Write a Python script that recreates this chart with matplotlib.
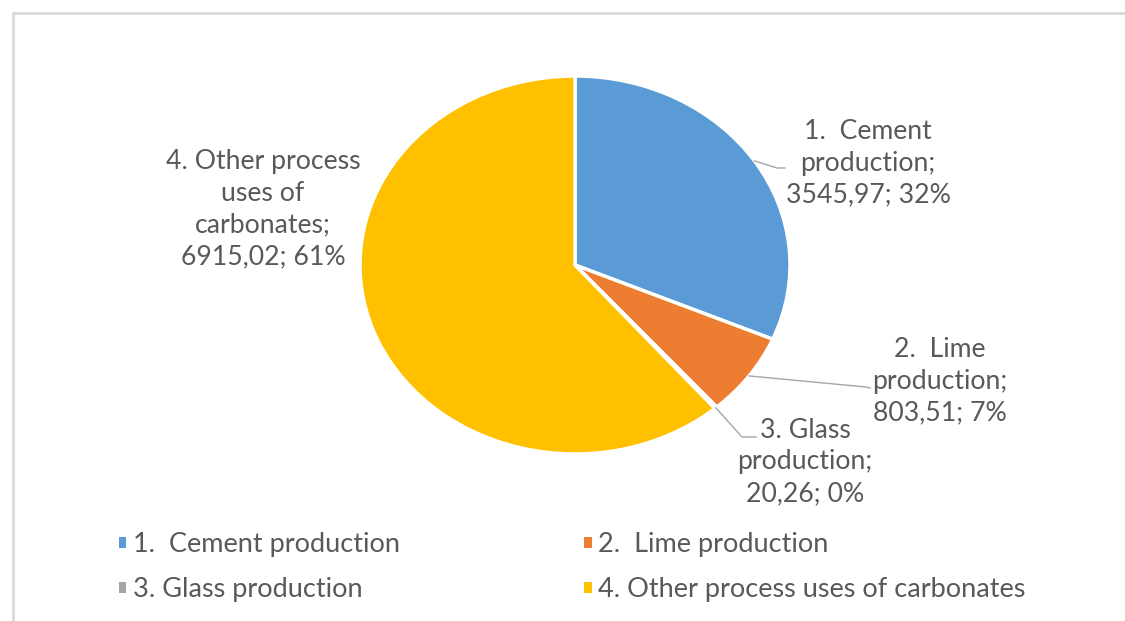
import numpy as np
import matplotlib
matplotlib.use("Agg")
import matplotlib.pyplot as plt
from matplotlib.patches import Patch, Rectangle

categories = ["1.  Cement production", "2.  Lime production",
              "3. Glass production", "4. Other process uses of carbonates"]
values = [3545.97, 803.51, 20.26, 6915.02]
pct_labels = ["32%", "7%", "0%", "61%"]
value_labels = ["3545,97", "803,51", "20,26", "6915,02"]
label_names = ["1.  Cement\nproduction", "2.  Lime\nproduction",
               "3. Glass\nproduction", "4. Other process\nuses of\ncarbonates"]
colors = ["#5B9BD5", "#ED7D31", "#A5A5A5", "#FFC000"]

W, H = 1125, 621
RX, RY = 215, 189          # pie looks stretched sideways
K = RX / RY
CX, CY = 575, 265          # pie centre in pixels
TEXT = "#595959"

plt.rcParams['font.family'] = ['Lato', 'DejaVu Sans']


def to_data(px, py):
    return px, (H - py) * K


fig = plt.figure(figsize=(W / 100, H / 100), dpi=100)
ax = fig.add_axes([0, 0, 1, 1])
cx, cy = to_data(CX, CY)
wedges, _ = ax.pie(values, colors=colors, startangle=90, counterclock=False,
                   radius=RX, center=(cx, cy),
                   wedgeprops=dict(edgecolor="white", linewidth=2.5))
ax.set_aspect("auto")
ax.set_xlim(0, W)
ax.set_ylim(0, H * K)
ax.axis("off")

# data labels
label_pos = [(868, 163), (940, 381), (805, 462), (263, 209)]
elbows = [[(777, 168), (785, 168)], [(866, 387), (870, 388)],
          [(742, 437), (756, 437)], None]
for i, w in enumerate(wedges):
    txt = f"{label_names[i]};\n{value_labels[i]}; {pct_labels[i]}"
    tx, ty = to_data(*label_pos[i])
    ax.text(tx, ty, txt, ha="center", va="center", fontsize=19.2,
            color=TEXT, linespacing=1.34)
    if elbows[i] is not None:
        mid = np.radians((w.theta1 + w.theta2) / 2)
        sx = CX + RX * np.cos(mid)
        sy = CY - RY * np.sin(mid)
        pts = [to_data(sx, sy)] + [to_data(*p) for p in elbows[i]]
        ax.plot([p[0] for p in pts], [p[1] for p in pts], color="#A6A6A6",
                lw=1, clip_on=False)

# legend: row-major order
order = [0, 2, 1, 3]
handles = [Patch(facecolor=colors[i], edgecolor="none") for i in order]
labels = [categories[i] for i in order]
ax.legend(handles, labels, ncol=2, loc="upper left",
          bbox_to_anchor=(119 / W, 1 - 532 / H), bbox_transform=fig.transFigure,
          frameon=False, fontsize=19.5, labelcolor=TEXT, handlelength=0.27,
          handleheight=0.27, handletextpad=0.25, columnspacing=6.8,
          labelspacing=0.74, borderpad=0, borderaxespad=0)

# chart area border
fig.patches.append(Rectangle((12.5 / W, -0.1), 1.2, (H - 12.5) / H + 0.1,
                             transform=fig.transFigure, fill=False,
                             edgecolor="#D9D9D9", linewidth=2))

fig.savefig("out.png", dpi=100, facecolor="white")
